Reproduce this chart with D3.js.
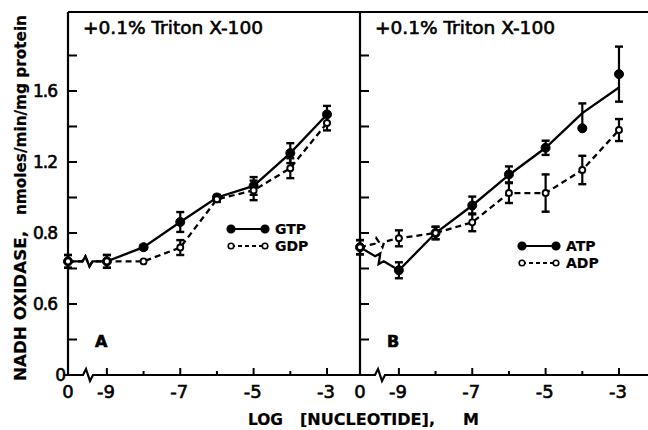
<!DOCTYPE html>
<html>
<head>
<meta charset="utf-8">
<script src="https://cdn.jsdelivr.net/npm/d3@7"></script>
<style>
  body { margin: 0; background: #fff; }
  text { font-family: "DejaVu Sans", sans-serif; fill: #000; stroke: #000; stroke-width: 0.6px; }
</style>
</head>
<body>
<div id="chart"></div>
<script>
// x categories: 0 = no nucleotide, others = log [nucleotide]
const xCats = [0, -9, -8, -7, -6, -5, -4, -3];

// panel A
const gtp    = [0.64, 0.64, 0.72, 0.862, 1.00, 1.065, 1.25, 1.468];
const gtpErr = [0.036, 0.036, 0.012, 0.056, 0.015, 0.05, 0.056, 0.048];
const gdp    = [0.64, 0.64, 0.64, 0.718, 0.99, 1.04, 1.165, 1.42];
const gdpErr = [0.036, 0.036, 0, 0.042, 0.015, 0.055, 0.056, 0.042];

// panel B
const atp      = [0.72, 0.59, 0.80, 0.955, 1.13, 1.28, 1.39, 1.695];
const atpErrHi = [0.04, 0.045, 0.035, 0.05, 0.045, 0.04, 0.14, 0.155];
const atpErrLo = [0.04, 0.045, 0.035, 0.05, 0.045, 0.04, 0.0, 0.155];
const atpFit   = [0.72, 0.59, 0.80, 0.955, 1.127, 1.28, 1.475, 1.62];
const adp      = [0.72, 0.77, 0.80, 0.86, 1.025, 1.025, 1.155, 1.38];
const adpErr   = [0.04, 0.045, 0.035, 0.05, 0.056, 0.105, 0.08, 0.062];

const yTicks = [0, 0.4, 0.8, 1.2, 1.6];
const yTickLabels = ["0", "0.6", "0.8", "1.2", "1.6"];
const yMinor = [0.2, 0.6, 1.0, 1.4, 1.8];
const xTicks = [-9, -7, -5, -3];
const xMinor = [-8, -6, -4];

const W = 648, H = 430;
const plotTop = 12, plotBottom = 375;
const panelW = 292;

const svg = d3.select("#chart").append("svg")
  .attr("width", W).attr("height", H);

const y = d3.scaleLinear().domain([0, 2.045]).range([plotBottom, plotTop]);

// top frame line
svg.append("line").attr("x1", 68).attr("x2", W).attr("y1", plotTop).attr("y2", plotTop)
  .attr("stroke", "#000").attr("stroke-width", 2);

function panel(x0, series, label, legend) {
  const x = d3.scaleLinear().domain([-10.06, -2.1]).range([x0, x0 + panelW]);
  const xp = v => v === 0 ? x0 : x(v);
  const g = svg.append("g");

  // axes
  g.append("line").attr("x1", x0).attr("x2", x0).attr("y1", plotTop).attr("y2", plotBottom)
    .attr("stroke", "#000").attr("stroke-width", 2.2);
  const bx = x0 + 17;
  g.append("path")
    .attr("d", `M${x0 - 5},${plotBottom}H${bx - 2}L${bx + 1},${plotBottom - 6}L${bx + 5},${plotBottom + 6}L${bx + 8},${plotBottom}H${x0 + panelW}`)
    .attr("fill", "none").attr("stroke", "#000").attr("stroke-width", 2.2);

  // y ticks (inward)
  g.selectAll(".ytick").data(yTicks.concat(yMinor)).join("line")
    .attr("x1", x0).attr("x2", x0 + 9)
    .attr("y1", d => y(d)).attr("y2", d => y(d))
    .attr("stroke", "#000").attr("stroke-width", 2);

  // x ticks (inward)
  g.selectAll(".xtick").data(xTicks).join("line")
    .attr("x1", d => x(d)).attr("x2", d => x(d))
    .attr("y1", plotBottom).attr("y2", plotBottom - 7)
    .attr("stroke", "#000").attr("stroke-width", 2);
  g.selectAll(".xminor").data(xMinor).join("line")
    .attr("x1", d => x(d)).attr("x2", d => x(d))
    .attr("y1", plotBottom).attr("y2", plotBottom - 4)
    .attr("stroke", "#000").attr("stroke-width", 2);

  // x tick labels
  g.selectAll(".xl").data([0].concat(xTicks)).join("text")
    .attr("x", d => xp(d) - (d === 0 ? 0 : 1))
    .attr("y", 398)
    .attr("text-anchor", "middle")
    .style("font-size", "18px")
    .text(d => d === 0 ? "0" : "-" + Math.abs(d));

  // title
  g.append("text").attr("x", x0 + 15).attr("y", 34)
    .style("font-size", "18px")
    .attr("textLength", 180).attr("lengthAdjust", "spacingAndGlyphs")
    .text("+0.1% Triton X-100");

  g.append("text").attr("x", x0 + 27).attr("y", 347)
    .style("font-size", "16px").style("font-weight", "bold")
    .text(label);

  // lines with break mark between 0 and -9
  series.forEach(s => {
    const pts = xCats.map((c, i) => [xp(c), y(s.line[i])]);
    const p0 = pts[0], p1 = pts[1];
    const mx = (p0[0] + p1[0]) / 2, my = (p0[1] + p1[1]) / 2;
    const dx = p1[0] - p0[0], dy = p1[1] - p0[1];
    const len = Math.hypot(dx, dy), ux = dx / len, uy = dy / len;
    const brk = [
      [mx - 5 * ux, my - 5 * uy],
      [mx - 2 * ux + 5 * uy, my - 2 * uy - 5 * ux],
      [mx + 2 * ux - 5 * uy, my + 2 * uy + 5 * ux],
      [mx + 5 * ux, my + 5 * uy]
    ];
    const path = [p0].concat(brk, pts.slice(1));
    g.append("path")
      .attr("d", d3.line()(path))
      .attr("fill", "none").attr("stroke", "#000").attr("stroke-width", 2.3)
      .attr("stroke-dasharray", s.dash ? "6,4" : null);

    // error bars
    xCats.forEach((c, i) => {
      const hi = s.hi[i], lo = s.lo[i];
      if (hi + lo < 0.02) return;
      const cx = xp(c);
      const y1 = y(s.v[i] + hi), y2 = y(s.v[i] - lo);
      g.append("line").attr("x1", cx).attr("x2", cx).attr("y1", y1).attr("y2", y2)
        .attr("stroke", "#000").attr("stroke-width", 2.2);
      g.append("line").attr("x1", cx - 4).attr("x2", cx + 4).attr("y1", y1).attr("y2", y1)
        .attr("stroke", "#000").attr("stroke-width", 2.4);
      if (lo > 0.005)
        g.append("line").attr("x1", cx - 4).attr("x2", cx + 4).attr("y1", y2).attr("y2", y2)
          .attr("stroke", "#000").attr("stroke-width", 2.4);
    });

    // markers
    g.selectAll(null).data(xCats).join("circle")
      .attr("cx", d => xp(d))
      .attr("cy", (d, i) => y(s.v[i]))
      .attr("r", s.open ? 3 : 4.5)
      .attr("fill", s.open ? "#fff" : "#000")
      .attr("stroke", "#000").attr("stroke-width", s.open ? 1.9 : 1);
  });

  // legend
  legend.forEach(l => {
    const ly = l.y;
    g.append("line").attr("x1", x0 + l.x).attr("x2", x0 + l.x + 34)
      .attr("y1", ly).attr("y2", ly)
      .attr("stroke", "#000").attr("stroke-width", 2.2)
      .attr("stroke-dasharray", l.open ? "4,3" : null);
    [l.x, l.x + 34].forEach(px => {
      g.append("circle").attr("cx", x0 + px).attr("cy", ly)
        .attr("r", l.open ? 2.8 : 3.8)
        .attr("fill", l.open ? "#fff" : "#000")
        .attr("stroke", "#000").attr("stroke-width", 1.6);
    });
    g.append("text").attr("x", x0 + l.x + 44).attr("y", ly + 5)
      .style("font-size", "14px").style("font-weight", "bold")
      .style("stroke-width", "0.2px")
      .text(l.name);
  });
}

panel(68, [
  { v: gtp, line: gtp, hi: gtpErr, lo: gtpErr, open: false, dash: false },
  { v: gdp, line: gdp, hi: gdpErr, lo: gdpErr, open: true, dash: true }
], "A", [
  { name: "GTP", x: 163, y: 229, open: false },
  { name: "GDP", x: 163, y: 246, open: true }
]);

panel(360, [
  { v: atp, line: atpFit, hi: atpErrHi, lo: atpErrLo, open: false, dash: false },
  { v: adp, line: adp, hi: adpErr, lo: adpErr, open: true, dash: true }
], "B", [
  { name: "ATP", x: 162, y: 246, open: false },
  { name: "ADP", x: 162, y: 263, open: true }
]);

// y tick labels (panel A only)
svg.selectAll(".yl").data(yTicks).join("text")
  .attr("x", (d, i) => i === 0 ? 65 : 57)
  .attr("y", d => y(d) + 6)
  .attr("text-anchor", "end")
  .style("font-size", "17px")
  .style("letter-spacing", "-1px")
  .text((d, i) => yTickLabels[i]);

// axis titles
svg.append("text")
  .attr("transform", "translate(26,381) rotate(-90)")
  .style("font-size", "16px").style("font-weight", "bold")
  .style("stroke-width", "0.2px")
  .attr("textLength", 150).attr("lengthAdjust", "spacingAndGlyphs")
  .text("NADH OXIDASE,");
svg.append("text")
  .attr("transform", "translate(26,215) rotate(-90)")
  .style("font-size", "16px").style("font-weight", "bold")
  .style("stroke-width", "0.2px")
  .attr("textLength", 200).attr("lengthAdjust", "spacingAndGlyphs")
  .text("nmoles/min/mg protein");

svg.append("text").attr("x", 248).attr("y", 425)
  .style("font-size", "16px").style("font-weight", "bold")
  .style("stroke-width", "0.2px")
  .attr("textLength", 35).attr("lengthAdjust", "spacingAndGlyphs")
  .text("LOG");
svg.append("text").attr("x", 300).attr("y", 425)
  .style("font-size", "16px").style("font-weight", "bold")
  .style("stroke-width", "0.2px")
  .attr("textLength", 135).attr("lengthAdjust", "spacingAndGlyphs")
  .text("[NUCLEOTIDE],");
svg.append("text").attr("x", 463).attr("y", 425)
  .style("font-size", "16px").style("font-weight", "bold")
  .style("stroke-width", "0.2px")
  .text("M");
</script>
</body>
</html>
